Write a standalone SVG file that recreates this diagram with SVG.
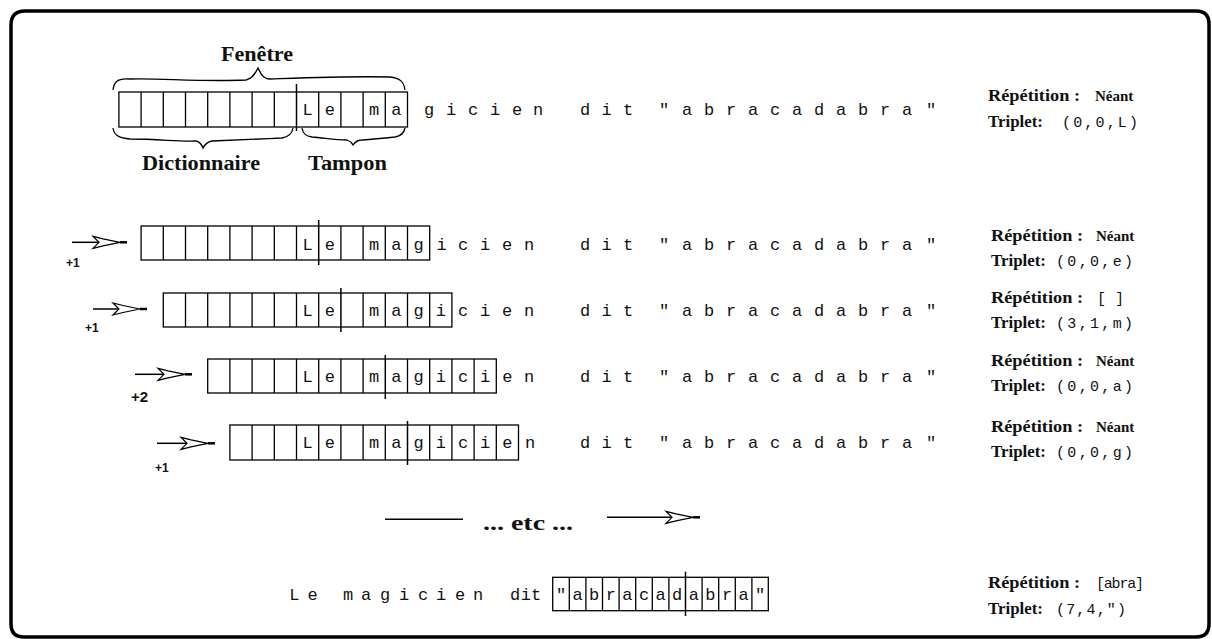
<svg xmlns="http://www.w3.org/2000/svg" xmlns:xlink="http://www.w3.org/1999/xlink" width="1212" height="639" viewBox="0 0 1212 639">
<style>
.bg{fill:#fff}
.frame{fill:none;stroke:#000;stroke-width:3.5}
.cell{fill:none;stroke:#000;stroke-width:1.3}
.sep{fill:none;stroke:#000;stroke-width:1.5}
.brace{fill:none;stroke:#000;stroke-width:1.3}
.m{font-family:"Liberation Mono","DejaVu Sans Mono",monospace;font-size:17px;fill:#111;text-anchor:middle}
.lbl{font-family:"Liberation Serif","DejaVu Serif",serif;font-size:16px;font-weight:bold;fill:#111}
.val{font-family:"Liberation Mono","DejaVu Sans Mono",monospace;font-size:15px;fill:#111}
.title{font-family:"Liberation Serif","DejaVu Serif",serif;font-size:20px;font-weight:bold;fill:#111}
.inc{font-family:"Liberation Sans","DejaVu Sans",sans-serif;font-size:12px;font-weight:bold;fill:#111}
.line{fill:none;stroke:#000;stroke-width:1.5}
.head{fill:#fff;stroke:#000;stroke-width:1.2;stroke-linejoin:miter}
.dash{stroke:#000;stroke-width:2.5}
</style>
<defs>
<g id="ahead">
<path class="head" d="M-27,-6 L-17,-3.5 L0,0 L-17,3.5 L-27,6 L-21,0 Z"/>
<path class="dash" d="M0,0 H7"/>
</g>
</defs>
<rect class="bg" x="0" y="0" width="1212" height="639"/>
<path class="frame" d="M25,11 H1196 Q1209,11 1209,24 V624 Q1209,637 1196,637 H24 Q11,637 11,624 V25 Q11,11 25,11 Z"/>

<g id="header">
<text class="title" x="221" y="61" textLength="72" lengthAdjust="spacingAndGlyphs">Fenêtre</text>
<path class="brace" d="M113,90 C114,80 120,78 130,79 C160,78 200,82 246,80 C252,79 255,74 258,68 C261,74 263,79 270,79 C300,78 350,76 390,77 C400,78 404,82 405,90"/>
<path class="brace" d="M113,128 C114,136 120,138 130,139 C160,139 180,142 196,141 C200,142 202,145 203,148 C205,144 207,142 212,141 C240,140 260,139 282,138 C288,137 292,134 293,128"/>
<path class="brace" d="M302,128 C303,134 306,136 312,137 C325,138 335,140 347,140 C350,141 352,143 353,145 C355,142 357,140 362,140 C375,139 385,138 395,137 C401,136 404,133 405,128"/>
<text class="title" x="142" y="170" textLength="118" lengthAdjust="spacingAndGlyphs">Dictionnaire</text>
<text class="title" x="308" y="170" textLength="79" lengthAdjust="spacingAndGlyphs">Tampon</text>
</g>

<g id="row1">
<rect class="cell" x="118.9" y="92" width="288.6" height="35"/>
<path class="cell" d="M141.1,92V127M163.3,92V127M185.5,92V127M207.7,92V127M229.9,92V127M252.1,92V127M274.3,92V127M318.7,92V127M340.9,92V127M363.1,92V127M385.3,92V127"/>
<path class="sep" d="M296.5,84V131"/>
<text class="m" x="307.6 329.8 352 374.2 396.4 429 451 473 495 517 538" y="115">Le magicien</text>
<text class="m" x="585 606.5 628" y="115">dit</text>
<text class="m" x="664 687 709 731 753 775 797 819 841 863 885 907 931" y="115">"abracadabra"</text>
<text class="lbl" x="988" y="101" textLength="92" lengthAdjust="spacingAndGlyphs">Répétition :</text>
<text class="lbl" x="1095" y="101" style="font-size:15px">Néant</text>
<text class="lbl" x="988" y="127" textLength="55" lengthAdjust="spacingAndGlyphs">Triplet:</text>
<text class="val" x="1062" y="127" textLength="76">(0,0,L)</text>
</g>

<g id="row2">
<rect class="cell" x="141.1" y="226" width="288.6" height="34"/>
<path class="cell" d="M163.3,226V260M185.5,226V260M207.7,226V260M229.9,226V260M252.1,226V260M274.3,226V260M296.5,226V260M340.9,226V260M363.1,226V260M385.3,226V260M407.5,226V260"/>
<path class="sep" d="M318.7,220V265"/>
<text class="m" x="307.6 329.8 352 374.2 396.4 418.6 441.5 463 485 507 529" y="250">Le magicien</text>
<text class="m" x="585 606.5 628" y="250">dit</text>
<text class="m" x="664 687 709 731 753 775 797 819 841 863 885 907 931" y="250">"abracadabra"</text>
<text class="lbl" x="991" y="241" textLength="92" lengthAdjust="spacingAndGlyphs">Répétition :</text>
<text class="lbl" x="1096" y="241" style="font-size:15px">Néant</text>
<text class="lbl" x="991" y="266" textLength="55" lengthAdjust="spacingAndGlyphs">Triplet:</text>
<text class="val" x="1056" y="266" textLength="77">(0,0,e)</text>
</g>

<g id="row3">
<rect class="cell" x="163.3" y="293" width="288.6" height="34"/>
<path class="cell" d="M185.5,293V327M207.7,293V327M229.9,293V327M252.1,293V327M274.3,293V327M296.5,293V327M318.7,293V327M363.1,293V327M385.3,293V327M407.5,293V327M429.7,293V327"/>
<path class="sep" d="M340.9,288V332"/>
<text class="m" x="307.6 329.8 352 374.2 396.4 418.6 440.8 463 485 507 529" y="316">Le magicien</text>
<text class="m" x="585 606.5 628" y="316">dit</text>
<text class="m" x="664 687 709 731 753 775 797 819 841 863 885 907 931" y="316">"abracadabra"</text>
<text class="lbl" x="991" y="303" textLength="92" lengthAdjust="spacingAndGlyphs">Répétition :</text>
<text class="val" x="1097" y="303">[ ]</text>
<text class="lbl" x="991" y="328" textLength="55" lengthAdjust="spacingAndGlyphs">Triplet:</text>
<text class="val" x="1056" y="328" textLength="77">(3,1,m)</text>
</g>

<g id="row4">
<rect class="cell" x="207.7" y="359" width="288.6" height="34"/>
<path class="cell" d="M229.9,359V393M252.1,359V393M274.3,359V393M296.5,359V393M318.7,359V393M340.9,359V393M363.1,359V393M407.5,359V393M429.7,359V393M451.9,359V393M474.1,359V393"/>
<path class="sep" d="M385.3,355V399"/>
<text class="m" x="307.6 329.8 352 374.2 396.4 418.6 440.8 463 485.2 507.4 529" y="382">Le magicien</text>
<text class="m" x="585 606.5 628" y="382">dit</text>
<text class="m" x="664 687 709 731 753 775 797 819 841 863 885 907 931" y="382">"abracadabra"</text>
<text class="lbl" x="991" y="366" textLength="92" lengthAdjust="spacingAndGlyphs">Répétition :</text>
<text class="lbl" x="1096" y="366" style="font-size:15px">Néant</text>
<text class="lbl" x="991" y="391" textLength="55" lengthAdjust="spacingAndGlyphs">Triplet:</text>
<text class="val" x="1056" y="391" textLength="77">(0,0,a)</text>
</g>

<g id="row5">
<rect class="cell" x="229.9" y="425" width="288.6" height="35"/>
<path class="cell" d="M252.1,425V460M274.3,425V460M296.5,425V460M318.7,425V460M340.9,425V460M363.1,425V460M385.3,425V460M429.7,425V460M451.9,425V460M474.1,425V460M496.3,425V460"/>
<path class="sep" d="M407.5,421V465"/>
<text class="m" x="307.6 329.8 352 374.2 396.4 418.6 440.8 463 485.2 507.4 530" y="448">Le magicien</text>
<text class="m" x="585 606.5 628" y="448">dit</text>
<text class="m" x="664 687 709 731 753 775 797 819 841 863 885 907 931" y="448">"abracadabra"</text>
<text class="lbl" x="991" y="432" textLength="92" lengthAdjust="spacingAndGlyphs">Répétition :</text>
<text class="lbl" x="1096" y="432" style="font-size:15px">Néant</text>
<text class="lbl" x="991" y="457" textLength="55" lengthAdjust="spacingAndGlyphs">Triplet:</text>
<text class="val" x="1056" y="457" textLength="77">(0,0,g)</text>
</g>

<g id="etc">
<text class="title" x="483" y="530" textLength="90" lengthAdjust="spacingAndGlyphs">... etc ...</text>
</g>

<g id="row6">
<rect class="cell" x="552.7" y="577.3" width="215.6" height="33.4"/>
<path class="cell" d="M569.3,577.3V610.7M585.9,577.3V610.7M602.5,577.3V610.7M619.1,577.3V610.7M635.7,577.3V610.7M652.3,577.3V610.7M668.9,577.3V610.7M702.1,577.3V610.7M718.7,577.3V610.7M735.3,577.3V610.7M751.9,577.3V610.7"/>
<path class="sep" d="M685.5,571.7V616"/>
<text class="m" x="294.3 312.7 330 348 366 385 404 423 441 460 478 497 515 531" y="600">Le magicien dit</text>
<text class="m" x="561 577.6 594.2 610.8 627.4 644 660.6 677.2 693.8 710.4 727 743.6 760.2" y="600">"abracadabra"</text>
<text class="lbl" x="988" y="588" textLength="92" lengthAdjust="spacingAndGlyphs">Répétition :</text>
<text class="val" x="1096" y="588" textLength="48">[abra]</text>
<text class="lbl" x="988" y="614" textLength="55" lengthAdjust="spacingAndGlyphs">Triplet:</text>
<text class="val" x="1056" y="614" textLength="70">(7,4,")</text>
</g>

<g id="connectors">
<path class="line" d="M72,242.3H99"/>
<use xlink:href="#ahead" x="120" y="242.3"/>
<text class="inc" x="66" y="267">+1</text>
<path class="line" d="M93,309H119"/>
<use xlink:href="#ahead" x="140" y="309"/>
<text class="inc" x="85" y="332">+1</text>
<path class="line" d="M135,374.3H164"/>
<use xlink:href="#ahead" x="185" y="374.3"/>
<text class="inc" x="131" y="402" style="font-size:15px">+2</text>
<path class="line" d="M157,443.3H187"/>
<use xlink:href="#ahead" x="208" y="443.3"/>
<text class="inc" x="155" y="472">+1</text>
<path class="line" d="M385,519.3H463"/>
<path class="line" d="M607,517.3H672"/>
<use xlink:href="#ahead" x="693" y="517.3"/>
</g>
</svg>
